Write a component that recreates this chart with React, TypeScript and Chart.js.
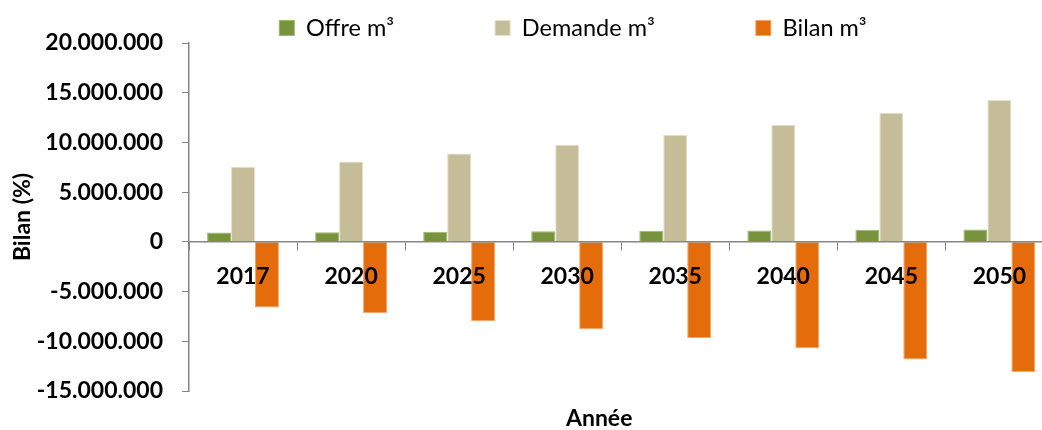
import { useEffect, useRef } from 'react';
import { Chart, registerables } from 'chart.js';

Chart.register(...registerables);

// Années et volumes (m³)
const years = ['2017', '2020', '2025', '2030', '2035', '2040', '2045', '2050'];
const offre = [940000, 970000, 1010000, 1070000, 1110000, 1140000, 1210000, 1240000];
const demande = [7550000, 8090000, 8890000, 9770000, 10740000, 11780000, 12990000, 14260000];
const bilan = [-6610000, -7180000, -7950000, -8790000, -9660000, -10700000, -11840000, -13090000];

const seriesNames = ['Offre m³', 'Demande m³', 'Bilan m³'];
const yMin = -15000000;
const yMax = 20000000;
const yStep = 5000000;

const FONT = 'Lato, "Open Sans", sans-serif';
const CANVAS_W = 1146;
const CANVAS_H = 430;

function formatMillier(v: number): string {
  const s = Math.abs(Math.round(v))
    .toString()
    .replace(/\B(?=(\d{3})+(?!\d))/g, '.');
  return (v < 0 ? '-' : '') + s;
}

// Titre de l'axe horizontal, posé sous la zone de tracé
const xTitlePlugin = {
  id: 'xTitle',
  afterDraw(chart: any) {
    const { ctx, chartArea } = chart;
    ctx.save();
    ctx.font = `bold 23px ${FONT}`;
    ctx.fillStyle = '#000';
    ctx.textAlign = 'center';
    ctx.textBaseline = 'alphabetic';
    ctx.fillText('Année', (chartArea.left + chartArea.right) / 2 - 22, chartArea.bottom + 35);
    ctx.restore();
  },
};

export default function App() {
  const canvasRef = useRef<HTMLCanvasElement | null>(null);

  useEffect(() => {
    if (!canvasRef.current) return;
    const chart = new Chart(canvasRef.current, {
      type: 'bar',
      data: {
        labels: years,
        datasets: [
          {
            label: seriesNames[0],
            data: offre,
            backgroundColor: '#77933C',
            borderColor: '#9DB56C',
            borderWidth: 1,
            categoryPercentage: 0.665,
            barPercentage: 1,
          },
          {
            label: seriesNames[1],
            data: demande,
            backgroundColor: '#C4BD97',
            borderColor: '#E4DFC8',
            borderWidth: 1,
            categoryPercentage: 0.665,
            barPercentage: 1,
          },
          {
            label: seriesNames[2],
            data: bilan,
            backgroundColor: '#E46C0A',
            borderColor: '#F2A56A',
            borderWidth: 1,
            categoryPercentage: 0.665,
            barPercentage: 1,
          },
        ],
      },
      options: {
        responsive: false,
        animation: false,
        devicePixelRatio: 1,
        layout: {
          padding: { left: 0, right: 0, top: -84.75, bottom: 39 },
        },
        plugins: {
          tooltip: { enabled: false },
          legend: {
            position: 'top',
            align: 'center',
            maxHeight: 127.75,
            labels: {
              boxWidth: 15,
              boxHeight: 15,
              padding: 101,
              color: '#000',
              font: { family: FONT, size: 23.5 },
            },
          },
        },
        scales: {
          x: {
            type: 'category',
            position: { y: 0 },
            offset: true,
            grid: {
              display: true,
              drawOnChartArea: false,
              drawTicks: true,
              tickLength: 8,
              color: '#868686',
              offset: true,
            },
            border: { display: true, color: '#868686', width: 1.5, z: 1 },
            ticks: {
              z: 1,
              color: '#000',
              padding: 13,
              maxRotation: 0,
              autoSkip: false,
              font: { family: FONT, size: 23, weight: 'bold' },
            },
          },
          y: {
            type: 'linear',
            position: 'left',
            min: yMin,
            max: yMax,
            grid: {
              display: true,
              drawOnChartArea: false,
              drawTicks: true,
              tickLength: 7,
              color: '#868686',
            },
            border: { display: true, color: '#868686', width: 1.5 },
            ticks: {
              stepSize: yStep,
              color: '#000',
              padding: 19,
              font: { family: FONT, size: 23, weight: 'bold' },
              callback: (v: any) => formatMillier(Number(v)),
            },
            title: {
              display: true,
              text: 'Bilan (%)',
              color: '#000',
              font: { family: FONT, size: 23, weight: 'bold' },
              padding: { top: 9.2, bottom: 0 },
            },
            afterFit: (scale: any) => {
              scale.width = 189;
            },
          },
          // marge de droite : réserve la place à droite de la zone de tracé
          yRight: {
            type: 'linear',
            position: 'right',
            display: true,
            min: yMin,
            max: yMax,
            grid: { display: false },
            border: { display: false },
            ticks: { display: false },
            afterFit: (scale: any) => {
              scale.width = 92.6;
            },
          },
        },
      } as any,
      plugins: [xTitlePlugin],
    });
    return () => chart.destroy();
  }, []);

  return (
    <div
      style={{
        position: 'absolute',
        left: 0,
        top: 0,
        width: 1042,
        height: 430,
        overflow: 'hidden',
        background: '#fff',
      }}
    >
      <canvas
        ref={canvasRef}
        width={CANVAS_W}
        height={CANVAS_H}
        style={{ width: CANVAS_W, height: CANVAS_H, display: 'block' }}
      />
    </div>
  );
}
